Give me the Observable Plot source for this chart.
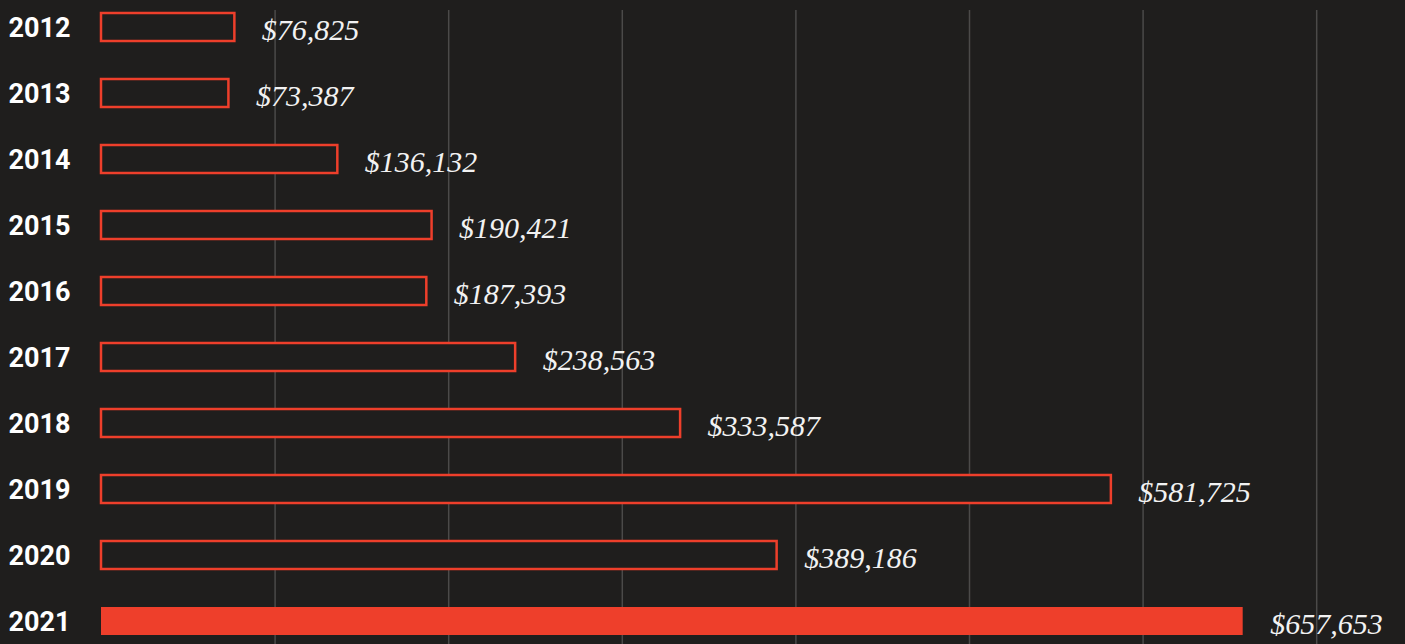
<!DOCTYPE html>
<html>
<head>
<meta charset="utf-8">
<script src="https://cdn.jsdelivr.net/npm/d3@7"></script>
<script src="https://cdn.jsdelivr.net/npm/@observablehq/plot@0.6"></script>
<style>
  html, body { margin: 0; padding: 0; background: #1f1e1d; overflow: hidden; }
  #chart svg { display: block; background: #1f1e1d; }
</style>
</head>
<body>
<div id="chart"></div>
<script>
const years = ["2012","2013","2014","2015","2016","2017","2018","2019","2020","2021"];
const amounts = [76825, 73387, 136132, 190421, 187393, 238563, 333587, 581725, 389186, 657653];
const highlightYear = "2021";
const gridTicks = [100000, 200000, 300000, 400000, 500000, 600000, 700000];

const RED = "#ee3f2b";
const BG = "#1f1e1d";

const rows = years.map((y, i) => ({year: y, amount: amounts[i], hl: y === highlightYear}));
const fmt = d3.format(",");

const chart = Plot.plot({
  width: 1405,
  height: 644,
  marginLeft: 101,
  marginRight: 2,
  marginTop: 10,
  marginBottom: 0,
  style: {background: BG, overflow: "visible"},
  x: {domain: [0, 750000], axis: null},
  y: {domain: years, range: [11, 636], paddingInner: 0.578, paddingOuter: 0, axis: null},
  marks: [
    Plot.gridX(gridTicks, {stroke: "#4b4a49", strokeOpacity: 1, strokeWidth: 1.5}),
    Plot.barX(rows.filter(d => !d.hl), {x: "amount", y: "year", fill: BG, stroke: RED, strokeWidth: 2.5}),
    Plot.barX(rows.filter(d => d.hl), {x: "amount", y: "year", fill: RED}),
    Plot.text(rows, {
      y: "year", text: "year", frameAnchor: "left", dx: -62, textAnchor: "middle",
      fill: "#ffffff", fontFamily: "Roboto", fontWeight: 700, fontSize: 27, dy: 1
    }),
    Plot.text(rows, {
      x: "amount", y: "year", text: d => "$" + fmt(d.amount), textAnchor: "start", dx: 27, dy: 3,
      fill: "#f2f2f2", fontFamily: "Liberation Serif", fontStyle: "italic", fontSize: 30
    })
  ]
});
document.getElementById("chart").appendChild(chart);
</script>
</body>
</html>
